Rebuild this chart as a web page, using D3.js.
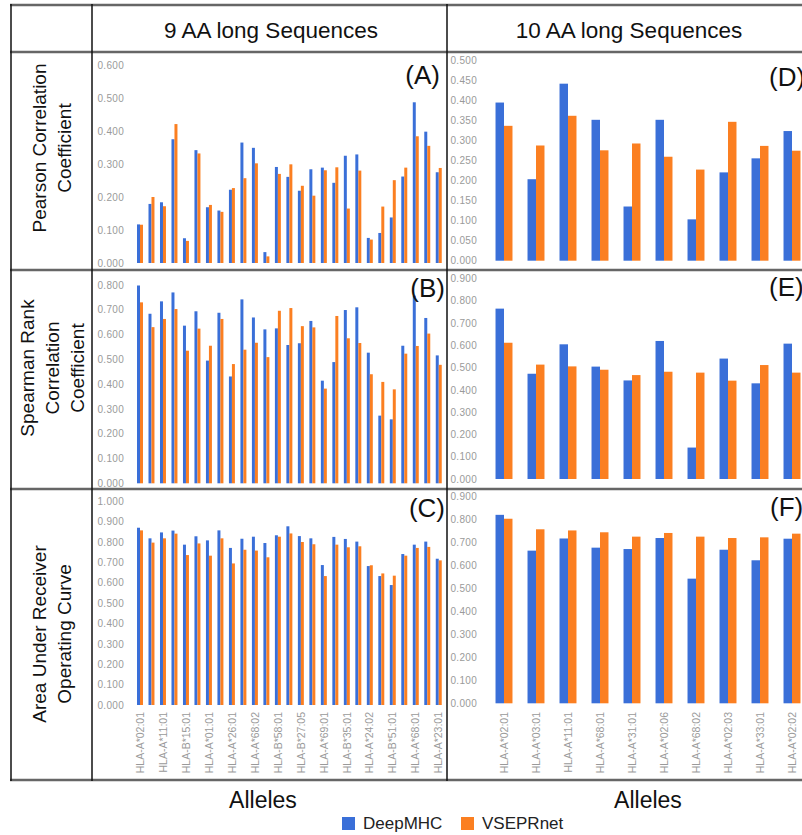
<!DOCTYPE html>
<html><head><meta charset="utf-8">
<script src="https://cdn.jsdelivr.net/npm/d3@7"></script>
<style>html,body{margin:0;padding:0;background:#fff;overflow:hidden}</style>
</head><body>
<script>
// ---------- DATA ----------
const alleles9 = ["HLA-A*02:01","HLA-A*03:01","HLA-A*11:01","HLA-A*02:03","HLA-B*15:01","HLA-A*31:01","HLA-A*01:01","HLA-B*07:02","HLA-A*26:01","HLA-A*02:06","HLA-A*68:02","HLA-B*08:01","HLA-B*58:01","HLA-B*40:01","HLA-B*27:05","HLA-B*39:01","HLA-A*69:01","HLA-A*33:01","HLA-B*35:01","HLA-A*30:01","HLA-A*24:02","HLA-B*18:01","HLA-B*51:01","HLA-A*30:02","HLA-A*68:01","HLA-B*46:01","HLA-A*23:01"];
const alleles10 = ["HLA-A*02:01","HLA-A*03:01","HLA-A*11:01","HLA-A*68:01","HLA-A*31:01","HLA-A*02:06","HLA-A*68:02","HLA-A*02:03","HLA-A*33:01","HLA-A*02:02"];
const seriesNames = ["DeepMHC","VSEPRnet"];
const columnTitles = ["9 AA long Sequences","10 AA long Sequences"];
const rowTitles = [["Pearson Correlation","Coefficient"],["Spearman Rank","Correlation","Coefficient"],["Area Under Receiver","Operating Curve"]];
const panelLetters = ["(A)","(B)","(C)","(D)","(E)","(F)"];

const pearson9_deep = [0.117,0.179,0.184,0.375,0.075,0.342,0.169,0.159,0.222,0.365,0.349,0.033,0.291,0.261,0.219,0.284,0.289,0.243,0.325,0.329,0.076,0.091,0.138,0.262,0.487,0.398,0.275];
const pearson9_vsep = [0.116,0.200,0.172,0.421,0.067,0.332,0.176,0.155,0.227,0.257,0.302,0.020,0.270,0.299,0.234,0.204,0.281,0.290,0.165,0.280,0.071,0.171,0.251,0.289,0.384,0.355,0.288];
const spearman9_deep = [0.798,0.684,0.734,0.770,0.636,0.694,0.495,0.688,0.431,0.742,0.669,0.621,0.625,0.558,0.565,0.655,0.414,0.489,0.699,0.710,0.527,0.273,0.258,0.555,0.757,0.667,0.516];
const spearman9_vsep = [0.730,0.630,0.663,0.703,0.535,0.624,0.555,0.663,0.481,0.539,0.567,0.509,0.696,0.707,0.634,0.629,0.382,0.675,0.585,0.566,0.440,0.409,0.379,0.523,0.554,0.604,0.478];
const auc9_deep = [0.869,0.817,0.846,0.855,0.786,0.827,0.807,0.856,0.770,0.815,0.825,0.794,0.832,0.876,0.828,0.817,0.686,0.824,0.814,0.801,0.681,0.632,0.588,0.740,0.786,0.801,0.717];
const auc9_vsep = [0.856,0.796,0.817,0.840,0.735,0.792,0.732,0.817,0.694,0.761,0.757,0.724,0.825,0.841,0.799,0.788,0.632,0.786,0.773,0.778,0.685,0.645,0.634,0.732,0.770,0.775,0.709];

const pearson10_deep = [0.394,0.203,0.441,0.351,0.135,0.351,0.103,0.220,0.255,0.323];
const pearson10_vsep = [0.336,0.287,0.361,0.275,0.292,0.259,0.227,0.346,0.286,0.274];
const spearman10_deep = [0.764,0.472,0.604,0.504,0.442,0.619,0.141,0.540,0.429,0.607];
const spearman10_vsep = [0.611,0.513,0.505,0.490,0.466,0.481,0.477,0.441,0.511,0.477];
const auc10_deep = [0.821,0.665,0.718,0.678,0.672,0.720,0.543,0.669,0.623,0.717];
const auc10_vsep = [0.804,0.758,0.753,0.745,0.726,0.742,0.726,0.720,0.723,0.739];

const yTicksA = [0,0.1,0.2,0.3,0.4,0.5,0.6];
const yTicksB = [0,0.1,0.2,0.3,0.4,0.5,0.6,0.7,0.8];
const yTicksC = [0,0.1,0.2,0.3,0.4,0.5,0.6,0.7,0.8,0.9,1.0];
const yTicksD = [0,0.05,0.1,0.15,0.2,0.25,0.3,0.35,0.4,0.45,0.5];
const yTicksE = [0,0.1,0.2,0.3,0.4,0.5,0.6,0.7,0.8,0.9];
const yTicksF = [0,0.1,0.2,0.3,0.4,0.5,0.6,0.7,0.8,0.9];

// ---------- STYLE ----------
const colors = ["#3a6fd8","#fb7f21"];
const FONT = "'Liberation Sans', Arial, Helvetica, sans-serif";
const W = 802, H = 835;

const svg = d3.select("body").append("svg").attr("width", W).attr("height", H)
  .style("font-family", FONT);
svg.append("rect").attr("width", W).attr("height", H).attr("fill", "#fff");

const color = d3.scaleOrdinal().domain(seriesNames).range(colors);

const x9 = d3.scaleBand().domain(alleles9).range([134.25, 444.5]).paddingInner(0.48).paddingOuter(0.24);
const x10 = d3.scaleBand().domain(alleles10).range([488, 808]).paddingInner(0.47).paddingOuter(0.235);

const panels = [
  {letter: panelLetters[0], x: x9, cats: alleles9, d: [pearson9_deep, pearson9_vsep], ticks: yTicksA, top: 65, zero: 263, axisX: 126, lx: 440, ly: 84, anchor: "end"},
  {letter: panelLetters[1], x: x9, cats: alleles9, d: [spearman9_deep, spearman9_vsep], ticks: yTicksB, top: 285, zero: 483.3, axisX: 126, lx: 445, ly: 297, anchor: "end"},
  {letter: panelLetters[2], x: x9, cats: alleles9, d: [auc9_deep, auc9_vsep], ticks: yTicksC, top: 501, zero: 705, axisX: 126, lx: 445, ly: 517, anchor: "end", xlab: true},
  {letter: panelLetters[3], x: x10, cats: alleles10, d: [pearson10_deep, pearson10_vsep], ticks: yTicksD, top: 60, zero: 260.7, axisX: 479, lx: 769, ly: 86, anchor: "start"},
  {letter: panelLetters[4], x: x10, cats: alleles10, d: [spearman10_deep, spearman10_vsep], ticks: yTicksE, top: 278.3, zero: 479, axisX: 479, lx: 769, ly: 296, anchor: "start"},
  {letter: panelLetters[5], x: x10, cats: alleles10, d: [auc10_deep, auc10_vsep], ticks: yTicksF, top: 496.7, zero: 703.3, axisX: 479, lx: 770, ly: 516, anchor: "start", xlab: true}
];

panels.forEach((p) => {
  const yMax = p.ticks[p.ticks.length - 1];
  const y = d3.scaleLinear().domain([0, yMax]).range([p.zero, p.top]);
  const xs = d3.scaleBand().domain(seriesNames).range([0, p.x.bandwidth()]);
  const g = svg.append("g");

  const ya = g.append("g").attr("transform", `translate(${p.axisX},0)`)
    .call(d3.axisLeft(y).tickValues(p.ticks).tickSize(0).tickPadding(2).tickFormat(d3.format(".3f")));
  ya.select(".domain").remove();
  ya.selectAll("text").attr("fill", "#9a9a9a").style("font-size", "10px").style("font-family", FONT)
    .style("letter-spacing", "0.3px");

  const rows = p.cats.map((c, i) => ({cat: c, vals: seriesNames.map((s, k) => ({s, v: p.d[k][i]}))}));
  g.selectAll("g.grp").data(rows).join("g").attr("class", "grp")
    .attr("transform", d => `translate(${p.x(d.cat)},0)`)
    .selectAll("rect").data(d => d.vals).join("rect")
      .attr("x", d => xs(d.s)).attr("width", xs.bandwidth())
      .attr("y", d => y(d.v)).attr("height", d => y(0) - y(d.v))
      .attr("fill", d => color(d.s));

  if (p.xlab) {
    const tv = p.cats.length > 10 ? p.cats.filter((c, i) => i % 2 === 0) : p.cats;
    const xa = g.append("g").attr("transform", `translate(0,712)`)
      .call(d3.axisBottom(p.x).tickValues(tv).tickSize(0));
    xa.select(".domain").remove();
    xa.selectAll("text")
      .attr("transform", "rotate(-90)")
      .attr("x", 0).attr("y", 0).attr("dy", "0.35em")
      .attr("text-anchor", "end")
      .attr("fill", "#9a9a9a").style("font-size", "10.5px").style("font-family", FONT);
  }

  svg.append("text").attr("x", p.lx).attr("y", p.ly).attr("text-anchor", p.anchor)
    .attr("fill", "#111").style("font-size", "26px").text(p.letter);
});

// ---------- TABLE GRID ----------
const hLines = [5, 52, 270, 489, 780];
hLines.forEach(yv => {
  svg.append("line").attr("x1", 10).attr("x2", W).attr("y1", yv).attr("y2", yv)
    .attr("stroke", "#666").attr("stroke-width", 2.5);
});
[11, 92, 447].forEach(xv => {
  svg.append("line").attr("x1", xv).attr("x2", xv).attr("y1", 4).attr("y2", 781)
    .attr("stroke", "#111").attr("stroke-width", 1.5);
});

[[271, columnTitles[0]], [629, columnTitles[1]]].forEach(([cx, t]) => {
  svg.append("text").attr("x", cx).attr("y", 38).attr("text-anchor", "middle")
    .attr("fill", "#111").style("font-size", "22.5px").text(t);
});

const rowCenters = [[52, 148], [52, 368], [52, 634]];
rowTitles.forEach((lines, ri) => {
  const [cx, cy] = rowCenters[ri];
  const lh = 25;
  const t = svg.append("text").attr("transform", `translate(${cx},${cy}) rotate(-90)`)
    .attr("text-anchor", "middle").attr("fill", "#111").style("font-size", "19px");
  lines.forEach((ln, k) => {
    t.append("tspan").attr("x", 0).attr("y", (k - (lines.length - 1) / 2) * lh).attr("dy", "0.35em").text(ln);
  });
});

[[263, "Alleles"], [648, "Alleles"]].forEach(([cx, t]) => {
  svg.append("text").attr("x", cx).attr("y", 808).attr("text-anchor", "middle")
    .attr("fill", "#111").style("font-size", "23px").text(t);
});

const legendX = [342, 461];
seriesNames.forEach((s, i) => {
  svg.append("rect").attr("x", legendX[i]).attr("y", 817).attr("width", 13).attr("height", 13).attr("fill", color(s));
  svg.append("text").attr("x", legendX[i] + 21).attr("y", 829).attr("fill", "#222")
    .style("font-size", "17px").text(s);
});
</script>
</body></html>
